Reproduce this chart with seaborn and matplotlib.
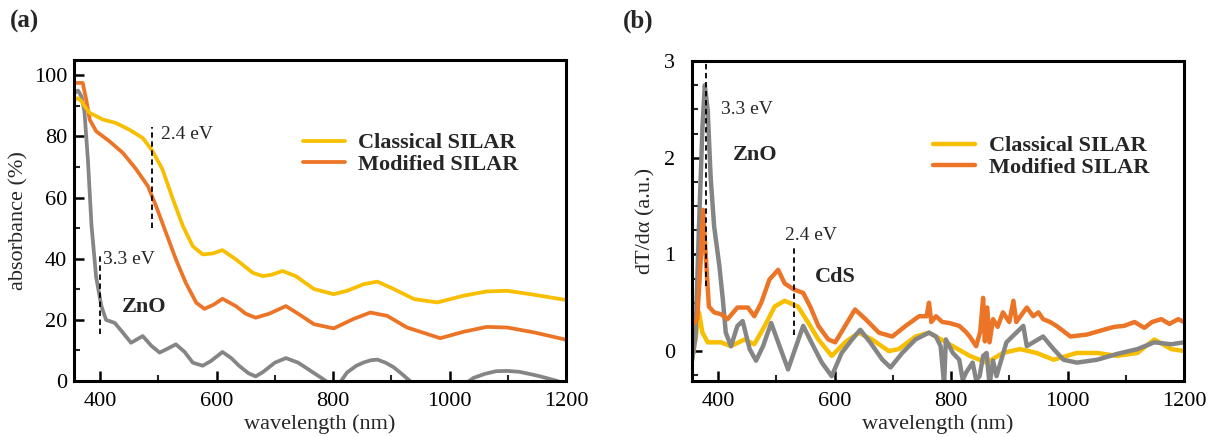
import numpy as np
import pandas as pd
import matplotlib
matplotlib.use('Agg')
import matplotlib.pyplot as plt
import seaborn as sns
from matplotlib.ticker import MultipleLocator

# ---- panel (a): absorbance (%) ----
wl_zno_a = [355, 362, 368, 373, 379, 385, 393, 402, 410, 425, 439, 453, 473, 488, 502, 515, 530, 545,
            559, 576, 590, 610, 625, 639, 655, 667, 680, 700, 719, 740, 760, 780, 795, 810, 824, 840,
            853, 865, 876, 890, 904, 920, 935, 960, 1000, 1030, 1041, 1060, 1080, 1099, 1120, 1140,
            1156, 1185, 1200]
abs_zno = [94, 95, 93, 88, 72, 51, 34, 24.5, 20, 19, 15.8, 12.5, 14.7, 11.5, 9.3, 10.5, 12, 9.5,
           6, 5, 6.5, 9.5, 7.5, 4.9, 2.5, 1.5, 3, 6, 7.5, 6, 3.5, 1, -1, -1, 2.8, 5,
           6.1, 6.8, 7, 6, 4.5, 2, -0.5, -3, -3, -0.5, 1, 2.3, 3.2, 3.3, 3, 2.2,
           1.5, 0, -1]

wl_cls_a = [355, 362, 368, 373, 382, 405, 427, 450, 473, 490, 507, 525, 542, 559, 576, 593, 610, 633,
            662, 679, 695, 713, 736, 767, 801, 824, 853, 876, 904, 939, 979, 1024, 1064, 1099, 1139, 1200]
abs_cls = [92, 92.5, 91.5, 89.9, 87.7, 85.5, 84.4, 82.2, 79.5, 75.2, 69.2, 59.4, 50.7, 44.1, 41.4, 41.7, 42.8, 39.8,
           35.4, 34.3, 34.8, 36, 34.3, 30.1, 28.4, 29.5, 31.7, 32.5, 30.1, 26.8, 25.7, 27.9, 29.3, 29.5, 28.4, 26.5]

wl_mod_a = [355, 370, 376, 382, 393, 416, 439, 462, 482, 496, 513, 530, 547, 565, 579, 595, 610, 633,
            650, 667, 690, 719, 740, 767, 801, 835, 864, 893, 927, 984, 1024, 1064, 1099, 1145, 1200]
abs_mod = [97.5, 97.5, 92, 85.5, 81.7, 78.4, 74.6, 69.2, 63.7, 57.2, 48.5, 39.8, 32.1, 25.6, 23.6, 25, 26.9, 24.5,
           22, 20.7, 22, 24.5, 22, 18.6, 17.2, 20.3, 22.4, 21.3, 17.5, 14, 16.1, 17.7, 17.5, 15.9, 13.5]

# ---- panel (b): dT/dalpha (a.u.) ----
wl_zno_b = [355, 361, 367, 373, 377, 382, 387, 393, 402, 408, 413, 422, 433, 442, 454, 465, 477, 491,
            503, 520, 532, 546, 560, 578, 595, 612, 630, 644, 661, 682, 696, 716, 739, 762, 774, 782,
            788, 791, 803, 814, 820, 826, 837, 843, 849, 855, 861, 866, 872, 878, 895, 912, 924, 930,
            941, 958, 976, 993, 1016, 1051, 1085, 1120, 1149, 1178, 1200]
der_zno = [-0.1, 0.15, 1.29, 2.32, 2.75, 2.49, 1.8, 1.29, 0.88, 0.53, 0.19, 0.05, 0.26, 0.31, 0.02, -0.1, 0.05, 0.29,
           0.09, -0.19, 0.02, 0.26, 0.09, -0.12, -0.26, -0.02, 0.12, 0.22, 0.09, -0.09, -0.17, -0.02, 0.12, 0.19, 0.15, 0.05,
           -0.35, 0.12, -0.02, -0.09, -0.3, -0.22, -0.12, -0.3, -0.26, -0.05, -0.02, -0.35, -0.1, -0.26, 0.09, 0.19, 0.26, 0.05,
           0.09, 0.15, 0.02, -0.09, -0.12, -0.09, -0.03, 0.02, 0.09, 0.07, 0.09]

wl_cls_b = [355, 361, 367, 373, 382, 405, 422, 445, 462, 480, 497, 514, 537, 555, 572, 595, 618, 641,
            664, 693, 710, 739, 762, 774, 803, 832, 861, 889, 918, 947, 976, 1016, 1051, 1085, 1120, 1149,
            1178, 1200]
der_cls = [-0.09, 0.12, 0.4, 0.19, 0.09, 0.09, 0.05, 0.12, 0.07, 0.26, 0.46, 0.52, 0.46, 0.29, 0.12, -0.05, 0.09, 0.19,
           0.12, 0.0, 0.02, 0.15, 0.19, 0.15, 0.05, -0.05, -0.12, -0.02, 0.02, -0.02, -0.09, -0.02, -0.02, -0.05, -0.02, 0.12,
           0.02, 0.0]

wl_mod_b = [355, 364, 370, 374, 379, 384, 393, 405, 416, 433, 451, 462, 474, 488, 503, 514, 529, 546,
            558, 572, 589, 601, 618, 635, 653, 676, 699, 722, 745, 758, 762, 766, 774, 785, 797, 814,
            825, 832, 843, 850, 855, 858, 862, 866, 872, 880, 889, 900, 907, 912, 924, 930, 941, 950,
            958, 970, 981, 1005, 1033, 1062, 1080, 1097, 1115, 1132, 1145, 1161, 1175, 1190, 1200]
der_mod = [0.26, 0.33, 0.95, 1.46, 0.95, 0.46, 0.40, 0.38, 0.33, 0.45, 0.45, 0.36, 0.5, 0.74, 0.84, 0.70, 0.64, 0.60,
           0.46, 0.26, 0.12, 0.09, 0.26, 0.43, 0.33, 0.19, 0.15, 0.26, 0.36, 0.36, 0.5, 0.3, 0.36, 0.3, 0.29, 0.26,
           0.2, 0.15, 0.05, 0.2, 0.55, 0.1, 0.45, 0.09, 0.33, 0.25, 0.40, 0.3, 0.52, 0.3, 0.40, 0.45, 0.36, 0.4,
           0.33, 0.3, 0.26, 0.15, 0.17, 0.22, 0.25, 0.26, 0.3, 0.24, 0.3, 0.33, 0.28, 0.33, 0.3]

labels = ['Classical SILAR', 'Modified SILAR']
c_yellow = '#F7BF00'
c_orange = '#EC7426'
c_gray = '#858585'

sns.set_style('ticks')
plt.rcParams['font.family'] = ['Liberation Serif', 'DejaVu Serif']

fig = plt.figure(figsize=(12.18, 4.37), dpi=100)
ax1 = fig.add_axes([74 / 1218, 56 / 437, 492 / 1218, 321 / 437])
ax2 = fig.add_axes([692 / 1218, 56 / 437, 492 / 1218, 320 / 437])


def draw(ax, x, y, color, lw, label=None):
    df = pd.DataFrame({'wavelength': x, 'value': y})
    sns.lineplot(data=df, x='wavelength', y='value', ax=ax, color=color, lw=lw,
                 sort=False, estimator=None, label=label, legend=False)


# (a)
draw(ax1, wl_zno_a, abs_zno, c_gray, 2.7)
draw(ax1, wl_mod_a, abs_mod, c_orange, 2.7, labels[1])
draw(ax1, wl_cls_a, abs_cls, c_yellow, 2.7, labels[0])

# (b)
draw(ax2, wl_cls_b, der_cls, c_yellow, 3.2, labels[0])
draw(ax2, wl_zno_b, der_zno, c_gray, 3.2)
draw(ax2, wl_mod_b, der_mod, c_orange, 3.2, labels[1])

for ax in (ax1, ax2):
    ax.set_xlim(355, 1200)
    ax.xaxis.set_major_locator(MultipleLocator(200))
    ax.xaxis.set_minor_locator(MultipleLocator(100))
    ax.tick_params(which='major', direction='in', length=7, width=1.8, labelsize=16,
                   top=False, right=False, colors='black')
    ax.tick_params(which='minor', direction='in', length=4, width=1.5, top=False, right=False)
    ax.tick_params(axis='x', pad=8)
    for s in ax.spines.values():
        s.set_linewidth(2.2)
        s.set_color('black')
    ax.set_xlabel('wavelength (nm)', fontsize=16, labelpad=2)
    h, l = ax.get_legend_handles_labels()
    order = [l.index(labels[0]), l.index(labels[1])]
    ax.legend([h[i] for i in order], [l[i] for i in order], frameon=False,
              loc='center left', prop={'weight': 'bold', 'size': 16},
              handlelength=1.9, handletextpad=0.6, labelspacing=0.05,
              borderpad=0, borderaxespad=0,
              bbox_to_anchor=(0.465, 0.707) if ax is ax1 else (0.49, 0.70))

ax1.set_ylim(0, 105)
ax1.yaxis.set_major_locator(MultipleLocator(20))
ax1.yaxis.set_minor_locator(MultipleLocator(10))
ax1.tick_params(axis='y', pad=5)
ax1.set_ylabel('absorbance (%)', fontsize=16, labelpad=4)

ax2.set_ylim(-0.31, 3)
ax2.yaxis.set_major_locator(MultipleLocator(1))
ax2.yaxis.set_minor_locator(MultipleLocator(0.25))
ax2.tick_params(axis='y', pad=12)
ax2.set_ylabel('dT/dα (a.u.)', fontsize=16, labelpad=6)

# annotations (a)
dash = dict(color='black', lw=1.3, linestyles=(0, (3, 2)))
ax1.vlines(489, 50, 83, **dash)
ax1.text(504, 80.7, '2.4 eV', fontsize=14, va='center')
ax1.vlines(399, 15.4, 41.5, **dash)
ax1.text(405, 39.9, '3.3 eV', fontsize=14, va='center')
ax1.text(476, 24.2, 'ZnO', fontsize=16, fontweight='bold', ha='center', va='center')

# annotations (b)
ax2.vlines(378.5, 0.67, 3.0, **dash)
ax2.text(404, 2.5, '3.3 eV', fontsize=14, va='center')
ax2.text(463, 2.03, 'ZnO', fontsize=16, fontweight='bold', ha='center', va='center')
ax2.vlines(530, 0.17, 1.07, **dash)
ax2.text(560, 1.2, '2.4 eV', fontsize=14, ha='center', va='center')
ax2.text(601, 0.77, 'CdS', fontsize=16, fontweight='bold', ha='center', va='center')

fig.text(10 / 1218, 1 - 21 / 437, '(a)', fontsize=18, fontweight='bold', va='center')
fig.text(623 / 1218, 1 - 21 / 437, '(b)', fontsize=18, fontweight='bold', va='center')

fig.savefig('out.png', dpi=100)
